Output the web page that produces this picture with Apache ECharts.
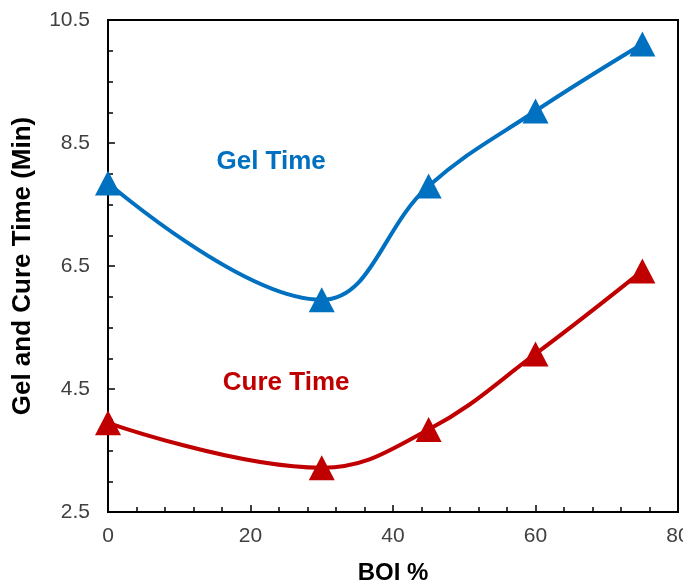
<!DOCTYPE html>
<html>
<head>
<meta charset="utf-8">
<script src="https://cdn.jsdelivr.net/npm/echarts@6/dist/echarts.min.js"></script>
<style>html,body{margin:0;padding:0;background:#fff;}#c{width:683px;height:584px;}</style>
</head>
<body>
<div id="c"></div>
<script>
var boi = [0, 30, 45, 60, 75];
var gelTime = [7.85, 5.95, 7.80, 9.02, 10.11];
var cureTime = [3.95, 3.22, 3.84, 5.07, 6.42];
var gelLabelPos = [22.9, 8.2];
var cureLabelPos = [25.0, 4.6];

var blue = '#0070C0', red = '#C00000';
function pairs(xs, ys) { return xs.map(function (x, i) { return [x, ys[i]]; }); }

var chart = echarts.init(document.getElementById('c'), null, {renderer: 'canvas'});
var font = 'Liberation Sans, Arial, sans-serif';
chart.setOption({
  animation: false,
  grid: {left: 108, right: 5, top: 20, bottom: 72, show: true, borderColor: '#000', borderWidth: 2,
         containLabel: false, outerBoundsMode: 'none'},
  xAxis: {
    type: 'value', min: 0, max: 80, interval: 20,
    name: 'BOI %', nameLocation: 'middle', nameGap: 49,
    nameTextStyle: {fontFamily: font, fontWeight: 'bold', fontSize: 24, color: '#000'},
    axisLine: {show: true, lineStyle: {color: '#000', width: 2}},
    axisTick: {show: true, inside: true, length: 7, lineStyle: {color: '#000', width: 1.5}},
    minorTick: {show: true, splitNumber: 5, length: 5, lineStyle: {color: '#000', width: 1.5}},
    axisLabel: {fontFamily: font, fontSize: 21, color: '#404040', margin: 14},
    splitLine: {show: false}
  },
  yAxis: {
    type: 'value', min: 2.5, max: 10.5, interval: 2,
    name: 'Gel and Cure Time (Min)', nameLocation: 'middle', nameGap: 72,
    nameTextStyle: {fontFamily: font, fontWeight: 'bold', fontSize: 26, color: '#000'},
    axisLine: {show: true, lineStyle: {color: '#000', width: 2}},
    axisTick: {show: true, inside: true, length: 7, lineStyle: {color: '#000', width: 1.5}},
    minorTick: {show: true, splitNumber: 4, length: 5, lineStyle: {color: '#000', width: 1.5}},
    axisLabel: {fontFamily: font, fontSize: 21, color: '#404040', margin: 18},
    splitLine: {show: false}
  },
  series: [
    {
      type: 'line', data: pairs(boi, gelTime), smooth: 0.4,
      symbol: 'triangle', symbolSize: [26, 25], showAllSymbol: true,
      lineStyle: {color: blue, width: 4}, itemStyle: {color: blue}, z: 3
    },
    {
      type: 'line', data: pairs(boi, cureTime), smooth: 0.4,
      symbol: 'triangle', symbolSize: [26, 25], showAllSymbol: true,
      lineStyle: {color: red, width: 4}, itemStyle: {color: red}, z: 3
    },
    {
      type: 'scatter', symbolSize: 0, silent: true, itemStyle: {opacity: 1},
      data: [{value: gelLabelPos, label: {formatter: 'Gel Time', color: blue}},
             {value: cureLabelPos, label: {formatter: 'Cure Time', color: red}}],
      label: {show: true, position: 'inside', opacity: 1, fontFamily: font, fontWeight: 'bold', fontSize: 26}
    }
  ]
});
</script>
</body>
</html>
